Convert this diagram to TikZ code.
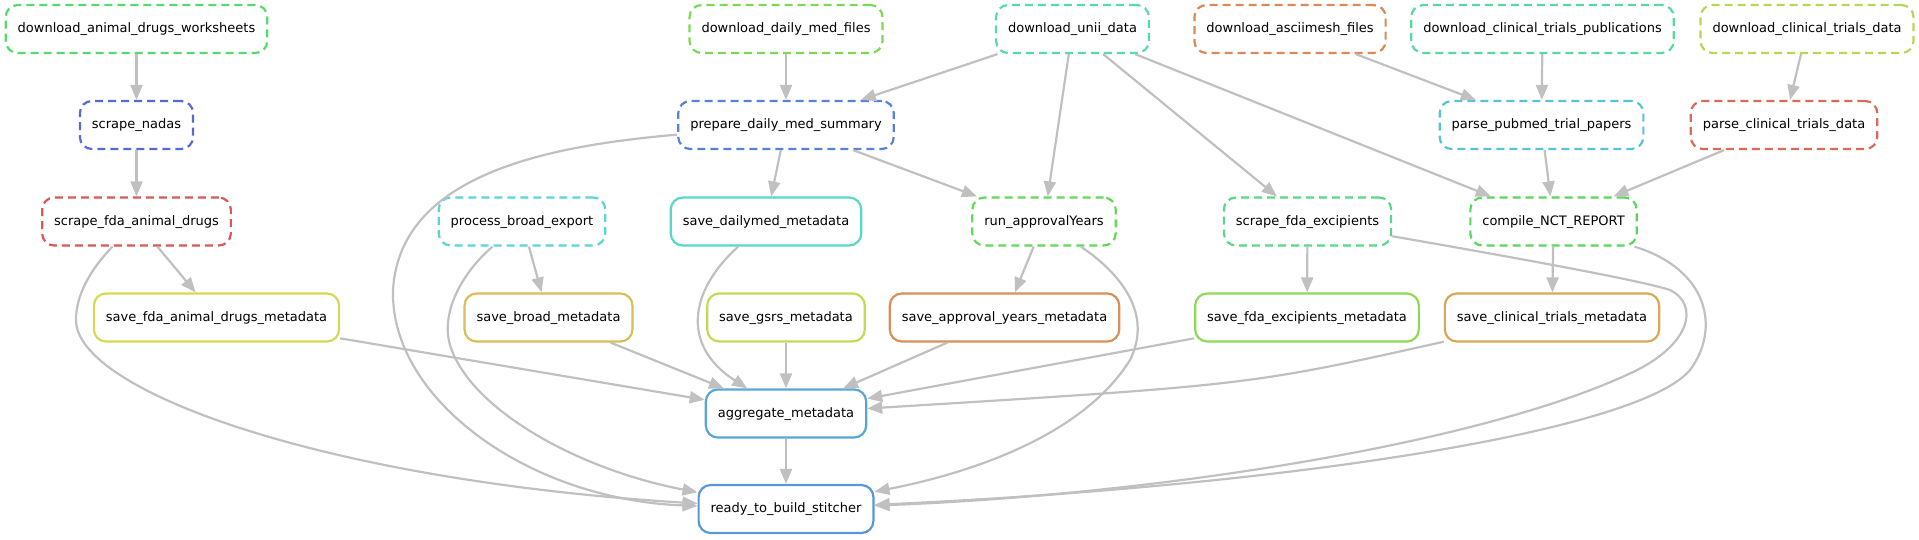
\documentclass[tikz,border=0pt]{standalone}
\usepackage{fontspec}
\setmainfont{DejaVu Sans}
\usepackage{xcolor}
\usetikzlibrary{arrows.meta}

\definecolor{edgegray}{HTML}{C0C0C0}
\definecolor{cDADW}{HTML}{57D96B}
\definecolor{cDDMF}{HTML}{7BD957}
\definecolor{cUNII}{HTML}{57D9B1}
\definecolor{cASCII}{HTML}{D98A57}
\definecolor{cDCTP}{HTML}{57D99F}
\definecolor{cDCTD}{HTML}{B5D957}
\definecolor{cNADAS}{HTML}{5768D9}
\definecolor{cPREP}{HTML}{5782D9}
\definecolor{cPPTP}{HTML}{57C3D9}
\definecolor{cPCTD}{HTML}{D96B57}
\definecolor{cSFAD}{HTML}{D95757}
\definecolor{cPBE}{HTML}{57D6D9}
\definecolor{cSDM}{HTML}{57D9C6}
\definecolor{cRAY}{HTML}{62D957}
\definecolor{cSFE}{HTML}{57D98A}
\definecolor{cNCT}{HTML}{57D957}
\definecolor{cSFADM}{HTML}{D6D957}
\definecolor{cSBM}{HTML}{D9BF57}
\definecolor{cSGM}{HTML}{C5D957}
\definecolor{cSAYM}{HTML}{D98F57}
\definecolor{cSFEM}{HTML}{8FD957}
\definecolor{cSCTM}{HTML}{D9A857}
\definecolor{cAGG}{HTML}{57A6D9}
\definecolor{cREADY}{HTML}{5798D9}

\tikzset{
    rulebox/.style={draw=#1, line width=2.2pt, rounded corners=12pt, fill=white,
        minimum height=48pt, inner xsep=12pt, text height=10pt, text depth=3pt,
        font=\fontsize{13}{15}\selectfont},
    pending/.style={rulebox=#1, dash pattern=on 8pt off 5pt},
    flow/.style={draw=edgegray, line width=2.2pt, -{Triangle[length=15pt,width=12pt]}}
}

\begin{document}
\begin{tikzpicture}[x=1pt, y=-1pt]
    \useasboundingbox (0,0) rectangle (1919,539);

    % Row 1: downloads
    \node[pending=cDADW] (dadw) at (136.5,29) {download\_animal\_drugs\_worksheets};
    \node[pending=cDDMF] (ddmf) at (786,29) {download\_daily\_med\_files};
    \node[pending=cUNII] (unii) at (1072.5,29) {download\_unii\_data};
    \node[pending=cASCII] (ascii) at (1290,29) {download\_asciimesh\_files};
    \node[pending=cDCTP] (dctp) at (1542.5,29) {download\_clinical\_trials\_publications};
    \node[pending=cDCTD] (dctd) at (1807,29) {download\_clinical\_trials\_data};

    % Row 2
    \node[pending=cNADAS] (nadas) at (136.5,125) {scrape\_nadas};
    \node[pending=cPREP] (prep) at (786,125) {prepare\_daily\_med\_summary};
    \node[pending=cPPTP] (pptp) at (1541.5,125) {parse\_pubmed\_trial\_papers};
    \node[pending=cPCTD] (pctd) at (1784,125) {parse\_clinical\_trials\_data};

    % Row 3
    \node[pending=cSFAD] (sfad) at (136.5,221.5) {scrape\_fda\_animal\_drugs};
    \node[pending=cPBE] (pbe) at (522,221.5) {process\_broad\_export};
    \node[rulebox=cSDM] (sdm) at (766,221.5) {save\_dailymed\_metadata};
    \node[pending=cRAY] (ray) at (1044,221.5) {run\_approvalYears};
    \node[pending=cSFE] (sfe) at (1307.5,221.5) {scrape\_fda\_excipients};
    \node[pending=cNCT] (nct) at (1553.5,221.5) {compile\_NCT\_REPORT};

    % Row 4: save rules
    \node[rulebox=cSFADM] (sfadm) at (216.5,317.5) {save\_fda\_animal\_drugs\_metadata};
    \node[rulebox=cSBM] (sbm) at (548.5,317.5) {save\_broad\_metadata};
    \node[rulebox=cSGM] (sgm) at (786,317.5) {save\_gsrs\_metadata};
    \node[rulebox=cSAYM] (saym) at (1004.5,317.5) {save\_approval\_years\_metadata};
    \node[rulebox=cSFEM] (sfem) at (1307,317.5) {save\_fda\_excipients\_metadata};
    \node[rulebox=cSCTM] (sctm) at (1552,317.5) {save\_clinical\_trials\_metadata};

    % Rows 5 and 6
    \node[rulebox=cAGG] (agg) at (786,413.5) {aggregate\_metadata};
    \node[rulebox=cREADY] (ready) at (786,509) {ready\_to\_build\_stitcher};

    % Straight connectors
    \draw[flow] (dadw) -- (nadas);
    \draw[flow] (nadas) -- (sfad);
    \draw[flow] (sfad) -- (sfadm);
    \draw[flow] (ddmf) -- (prep);
    \draw[flow] (unii) -- (prep);
    \draw[flow] (unii) -- (ray);
    \draw[flow] (unii) -- (sfe);
    \draw[flow] (unii) -- (nct);
    \draw[flow] (prep) -- (sdm);
    \draw[flow] (prep) -- (ray);
    \draw[flow] (ascii) -- (pptp);
    \draw[flow] (dctp) -- (pptp);
    \draw[flow] (dctd) -- (pctd);
    \draw[flow] (pptp) -- (nct);
    \draw[flow] (pctd) -- (nct);
    \draw[flow] (pbe) -- (sbm);
    \draw[flow] (ray) -- (saym);
    \draw[flow] (sfe) -- (sfem);
    \draw[flow] (nct) -- (sctm);
    \draw[flow] (sfadm) -- (agg);
    \draw[flow] (sbm) -- (agg);
    \draw[flow] (sgm) -- (agg);
    \draw[flow] (saym) -- (agg);
    \draw[flow] (sfem) -- (agg);
    \draw[flow] (sctm) .. controls (1250,385) .. (agg);
    \draw[flow] (agg) -- (ready);

    % Curved connectors
    \draw[flow] (sdm) .. controls (690,290) and (680,345) .. (agg);
    \draw[flow] (sfad) .. controls (90,270) and (76,295) .. (76,320)
        .. controls (76,390) and (320,480) .. (ready);
    \draw[flow] (prep) .. controls (560,145) and (400,170) .. (393,290)
        .. controls (390,400) and (530,500) .. (ready);
    \draw[flow] (pbe) .. controls (465,270) and (440,310) .. (450,345)
        .. controls (470,410) and (580,470) .. (ready);
    \draw[flow] (ray) .. controls (1130,280) and (1150,320) .. (1130,360)
        .. controls (1080,440) and (960,475) .. (ready);
    \draw[flow] (sfe) .. controls (1500,255) and (1640,280) .. (1670,290)
        .. controls (1700,305) and (1690,345) .. (1633,372)
        .. controls (1480,445) and (1150,495) .. (ready);
    \draw[flow] (nct) .. controls (1710,270) and (1720,330) .. (1690,370)
        .. controls (1640,430) and (1300,485) .. (ready);

\end{tikzpicture}
\end{document}
